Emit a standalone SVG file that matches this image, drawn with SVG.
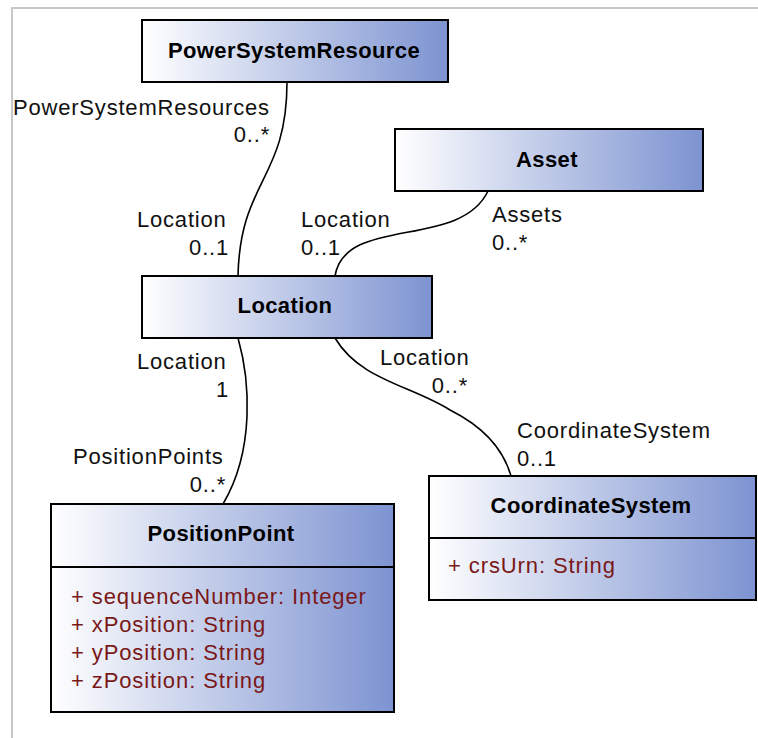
<svg xmlns="http://www.w3.org/2000/svg" width="758" height="738" viewBox="0 0 758 738">
  <defs>
    <linearGradient id="boxgrad" x1="0" y1="0" x2="1" y2="0">
      <stop offset="0" stop-color="#ffffff"/>
      <stop offset="1" stop-color="#7d93d1"/>
    </linearGradient>
    <style>
      .box { fill: url(#boxgrad); stroke: #000; stroke-width: 2; }
      .div { stroke: #000; stroke-width: 2; }
      .title { font-family: "Liberation Sans", Arial, sans-serif; font-size: 22px; font-weight: bold; fill: #000; text-anchor: middle; letter-spacing: 0.4px; }
      .lbl { font-family: "Liberation Sans", Arial, sans-serif; font-size: 22px; fill: #111; letter-spacing: 0.8px; }
      .end { text-anchor: end; }
      .attr { font-family: "Liberation Sans", Arial, sans-serif; font-size: 22px; fill: #7a1818; letter-spacing: 0.9px; }
      .conn { fill: none; stroke: #000; stroke-width: 1.6; }
    </style>
  </defs>
  <rect width="758" height="738" fill="#fff"/>
  <path d="M12,738 V8 H758" fill="none" stroke="#c8c8c8" stroke-width="2"/>

  <g id="connectors">
    <path class="conn" d="M287,82 C287,180 240,180 238,276"/>
    <path class="conn" d="M488,191 C460,250 345,215 335,276"/>
    <path class="conn" d="M238,338 C250,380 255,450 223,504"/>
    <path class="conn" d="M335,338 C360,380 410,385 450,410 C490,430 505,455 511,476"/>
  </g>

  <g id="labels">
    <text class="lbl" x="13" y="115">PowerSystemResources</text>
    <text class="lbl end" x="270" y="142">0..*</text>
    <text class="lbl" x="137" y="227">Location</text>
    <text class="lbl end" x="229" y="255">0..1</text>
    <text class="lbl" x="301" y="227">Location</text>
    <text class="lbl" x="301" y="255">0..1</text>
    <text class="lbl" x="492" y="222">Assets</text>
    <text class="lbl" x="492" y="250">0..*</text>
    <text class="lbl" x="137" y="369">Location</text>
    <text class="lbl end" x="229" y="397">1</text>
    <text class="lbl" x="380" y="365">Location</text>
    <text class="lbl end" x="468" y="393">0..*</text>
    <text class="lbl" x="517" y="438">CoordinateSystem</text>
    <text class="lbl" x="517" y="466">0..1</text>
    <text class="lbl" x="73" y="464">PositionPoints</text>
    <text class="lbl end" x="226" y="492">0..*</text>
  </g>

  <g id="PowerSystemResource">
    <rect class="box" x="142" y="20" width="306" height="62"/>
    <text class="title" x="294" y="58">PowerSystemResource</text>
  </g>

  <g id="Asset">
    <rect class="box" x="395" y="129" width="308" height="62"/>
    <text class="title" x="547" y="167">Asset</text>
  </g>

  <g id="Location">
    <rect class="box" x="142" y="276" width="290" height="62"/>
    <text class="title" x="285" y="313">Location</text>
  </g>

  <g id="PositionPoint">
    <rect class="box" x="51" y="504" width="343" height="208"/>
    <line class="div" x1="51" y1="567" x2="394" y2="567"/>
    <text class="title" x="221" y="541">PositionPoint</text>
    <text class="attr" x="71" y="604">+ sequenceNumber: Integer</text>
    <text class="attr" x="71" y="632">+ xPosition: String</text>
    <text class="attr" x="71" y="660">+ yPosition: String</text>
    <text class="attr" x="71" y="688">+ zPosition: String</text>
  </g>

  <g id="CoordinateSystem">
    <rect class="box" x="429" y="476" width="327" height="124"/>
    <line class="div" x1="429" y1="538" x2="756" y2="538"/>
    <text class="title" x="591" y="513">CoordinateSystem</text>
    <text class="attr" x="448" y="573">+ crsUrn: String</text>
  </g>
</svg>
